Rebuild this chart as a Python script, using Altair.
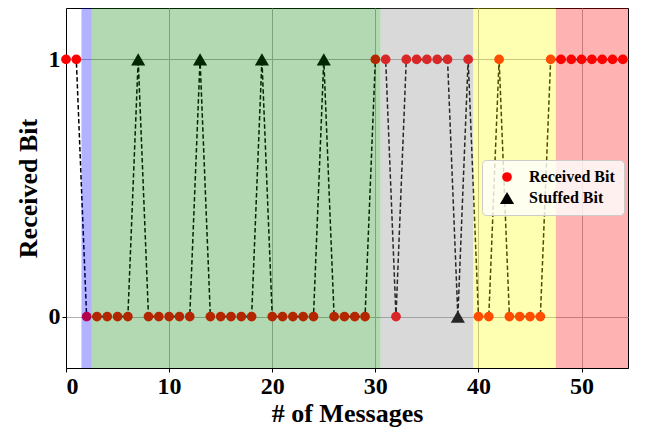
import altair as alt
import pandas as pd

bits = [1, 1, 0, 0, 0, 0, 0, 1, 0, 0, 0, 0, 0, 1, 0, 0, 0, 0, 0, 1,
        0, 0, 0, 0, 0, 1, 0, 0, 0, 0, 1, 1, 0, 1, 1, 1, 1, 1, 0, 1,
        0, 0, 1, 0, 0, 0, 0, 1, 1, 1, 1, 1, 1, 1, 1]
stuffed_idx = [7, 13, 19, 25, 38]

span_start = [1.5, 2.5, 30.5, 39.5, 47.5]
span_end = [2.5, 30.5, 39.5, 47.5, 54.5]
span_color = ["#0000ff", "#008000", "#808080", "#ffff00", "#ff0000"]

x_ticks = [0, 10, 20, 30, 40, 50]
y_ticks = [0, 1]

df = pd.DataFrame({
    "idx": list(range(len(bits))),
    "bit": bits,
    "kind": ["Stuffed Bit" if i in stuffed_idx else "Received Bit" for i in range(len(bits))],
})
spans = pd.DataFrame({"s": span_start, "e": span_end, "c": span_color,
                      "lo": [-0.2] * 5, "hi": [1.2] * 5})

FONT = "Liberation Serif"
xs = alt.Scale(domain=[0, 54.5], nice=False, zero=False)
ys = alt.Scale(domain=[-0.2, 1.2], nice=False, zero=False)

xax = alt.Axis(values=x_ticks, title="# of Messages", format="d")
yax = alt.Axis(values=y_ticks, title="Received Bit", format="d")

line = alt.Chart(df).mark_line(color="black", strokeDash=[4.5, 2.5], strokeWidth=1.5).encode(
    x=alt.X("idx:Q", scale=xs, axis=xax),
    y=alt.Y("bit:Q", scale=ys, axis=yax),
    order="idx:Q",
)

pts = alt.Chart(df).mark_point(filled=True, opacity=1).encode(
    x=alt.X("idx:Q", scale=xs),
    y=alt.Y("bit:Q", scale=ys),
    color=alt.Color("kind:N", scale=alt.Scale(domain=["Received Bit", "Stuffed Bit"], range=["#ff0000", "#000000"]),
                    legend=alt.Legend(title=None, orient="none", legendX=416, legendY=152,
                                      fillColor="rgba(255,255,255,0.8)", strokeColor="#cccccc",
                                      cornerRadius=4, padding=9, labelFont=FONT, labelFontWeight="bold",
                                      labelFontSize=16, symbolSize=150, rowPadding=5, labelOffset=14,
                                      labelColor="black", symbolOffset=8)),
    shape=alt.Shape("kind:N", scale=alt.Scale(domain=["Received Bit", "Stuffed Bit"], range=["circle", "triangle-up"])),
    size=alt.Size("kind:N", scale=alt.Scale(domain=["Received Bit", "Stuffed Bit"], range=[95, 200]), legend=None),
)

rects = alt.Chart(spans).mark_rect(opacity=0.3).encode(
    x=alt.X("s:Q", scale=xs),
    x2="e:Q",
    y=alt.Y("lo:Q", scale=ys),
    y2="hi:Q",
    color=alt.Color("c:N", scale=None, legend=None),
)

chart = alt.layer(line, pts, rects).resolve_scale(color="independent", shape="independent", size="independent").properties(
    width=562, height=360,
    autosize=alt.AutoSizeParams(type="none"),
    padding={"left": 58, "top": 0, "right": 10, "bottom": 64},
).configure_axis(
    labelFont=FONT, labelFontWeight="bold", labelFontSize=24, labelColor="black",
    titleFont=FONT, titleFontWeight="bold", titleFontSize=26, titleColor="black",
    domainColor="black", domainWidth=1, tickColor="black", tickSize=4,
    gridColor="#b0b0b0", gridWidth=1, grid=True, labelPadding=2, zindex=1,
).configure_axisX(titlePadding=2).configure_axisY(titlePadding=7).configure_view(
    stroke="black", strokeWidth=1
)

chart.save("out.html", embed_options={"renderer": "svg", "actions": False})
